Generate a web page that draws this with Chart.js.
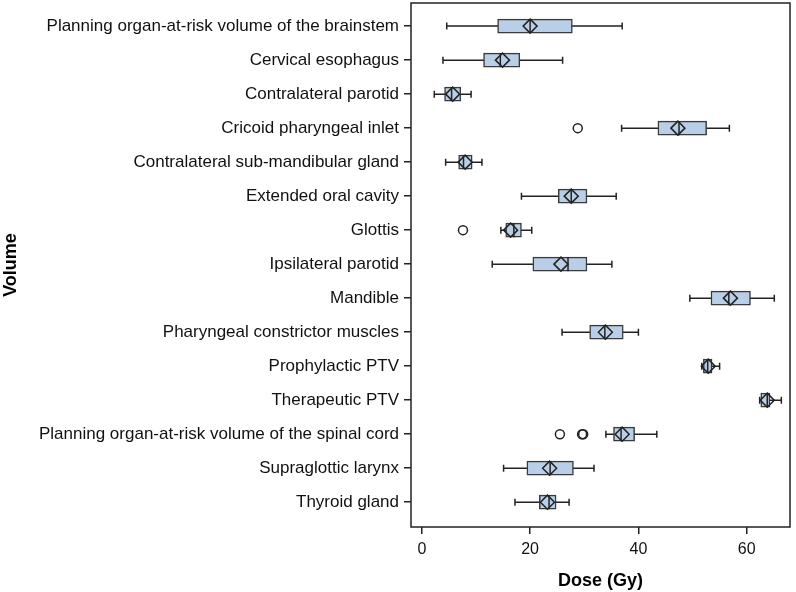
<!DOCTYPE html>
<html lang="en">
<head>
    <meta charset="UTF-8">
    <title>Dose by Volume</title>
    <script src="https://cdn.jsdelivr.net/npm/chart.js"></script>
    <style>
        html, body { margin: 0; padding: 0; background: #fff; }
        #wrap { width: 796px; height: 592px; }
    </style>
</head>
<body>
    <div id="wrap"><canvas id="doseChart"></canvas></div>

    <script>
        const volumes = [
            'Planning organ-at-risk volume of the brainstem',
            'Cervical esophagus',
            'Contralateral parotid',
            'Cricoid pharyngeal inlet',
            'Contralateral sub-mandibular gland',
            'Extended oral cavity',
            'Glottis',
            'Ipsilateral parotid',
            'Mandible',
            'Pharyngeal constrictor muscles',
            'Prophylactic PTV',
            'Therapeutic PTV',
            'Planning organ-at-risk volume of the spinal cord',
            'Supraglottic larynx',
            'Thyroid gland'
        ];
        const whiskerLow  = [4.6, 3.9, 2.3, 36.9, 4.4, 18.4, 14.6, 13.0, 49.5, 25.9, 51.7, 62.4, 34.0, 15.1, 17.2];
        const q1          = [14.0, 11.4, 4.2, 43.6, 6.8, 25.2, 15.5, 20.5, 53.4, 31.0, 52.0, 62.6, 35.4, 19.4, 21.7];
        const medians     = [20.0, 14.5, 5.5, 47.5, 7.7, 27.6, 17.0, 27.0, 56.7, 33.8, 52.8, 63.8, 36.8, 23.7, 23.5];
        const means       = [20.0, 14.9, 5.7, 47.3, 8.0, 27.6, 16.4, 25.7, 57.0, 33.9, 52.9, 63.8, 37.0, 23.6, 23.2];
        const q3          = [27.8, 18.1, 7.2, 52.6, 9.3, 30.5, 18.4, 30.5, 60.7, 37.2, 53.6, 64.3, 39.3, 28.0, 24.8];
        const whiskerHigh = [37.0, 26.0, 9.1, 56.8, 11.1, 35.9, 20.3, 35.1, 65.1, 40.0, 55.0, 66.4, 43.4, 31.8, 27.2];

        // outliers: row index + dose
        const outlierRow  = [3, 6, 12, 12, 12];
        const outlierDose = [28.8, 7.6, 25.5, 29.6, 29.8];

        const xTicks = [0, 20, 40, 60];

        const INK = '#222';
        const FONT = "'Liberation Sans', Arial, sans-serif";

        // whiskers under the boxes, medians on top of them, frame at the end
        const boxExtras = {
            id: 'boxExtras',
            beforeDatasetsDraw(chart) {
                const { ctx, scales: { x, y } } = chart;
                ctx.save();
                ctx.strokeStyle = INK;
                ctx.lineWidth = 1.5;
                volumes.forEach((_, i) => {
                    const py = y.getPixelForValue(i);
                    const a = x.getPixelForValue(whiskerLow[i]);
                    const b = x.getPixelForValue(whiskerHigh[i]);
                    ctx.beginPath();
                    ctx.moveTo(a, py); ctx.lineTo(b, py);
                    ctx.moveTo(a, py - 3.5); ctx.lineTo(a, py + 3.5);
                    ctx.moveTo(b, py - 3.5); ctx.lineTo(b, py + 3.5);
                    ctx.stroke();
                });
                ctx.restore();
            },
            afterDatasetDraw(chart, args) {
                if (args.meta.type !== 'bar') return;
                const { ctx, scales: { x, y } } = chart;
                ctx.save();
                ctx.strokeStyle = INK;
                ctx.lineWidth = 1.5;
                volumes.forEach((_, i) => {
                    const py = y.getPixelForValue(i);
                    const m = x.getPixelForValue(medians[i]);
                    ctx.beginPath();
                    ctx.moveTo(m, py - 7); ctx.lineTo(m, py + 7);
                    ctx.stroke();
                });
                ctx.restore();
            },
            afterDraw(chart) {
                const { ctx, chartArea: c } = chart;
                ctx.save();
                ctx.strokeStyle = INK;
                ctx.lineWidth = 1.5;
                ctx.strokeRect(c.left, c.top, c.right - c.left, c.bottom - c.top);
                ctx.restore();
            }
        };

        new Chart(document.getElementById('doseChart'), {
            type: 'bar',
            data: {
                datasets: [
                    {
                        type: 'scatter',
                        label: 'Mean',
                        data: means.map((v, i) => ({ x: v, y: i })),
                        pointStyle: 'rectRot',
                        radius: 7,
                        borderColor: INK,
                        borderWidth: 1.5,
                        backgroundColor: 'rgba(0,0,0,0)',
                        order: 0
                    },
                    {
                        type: 'scatter',
                        label: 'Outliers',
                        data: outlierDose.map((v, k) => ({ x: v, y: outlierRow[k] })),
                        pointStyle: 'circle',
                        radius: 4.5,
                        borderColor: INK,
                        borderWidth: 1.5,
                        backgroundColor: 'rgba(0,0,0,0)',
                        order: 1
                    },
                    {
                        type: 'bar',
                        label: 'IQR',
                        indexAxis: 'y',
                        data: q1.map((v, i) => ({ x: [v, q3[i]], y: i })),
                        backgroundColor: '#b9cfe8',
                        borderColor: '#3a3a3a',
                        borderWidth: 1.5,
                        borderSkipped: false,
                        barThickness: 14,
                        order: 2
                    }
                ]
            },
            options: {
                responsive: true,
                maintainAspectRatio: false,
                animation: false,
                layout: { autoPadding: false, padding: { top: 3, right: 6, left: 0, bottom: 0 } },
                plugins: { legend: { display: false }, tooltip: { enabled: false } },
                scales: {
                    x: {
                        type: 'linear',
                        offset: false,
                        min: -2,
                        max: 68,
                        afterBuildTicks: s => { s.ticks = xTicks.map(v => ({ value: v })); },
                        afterFit: s => { s.height = 65; s.paddingLeft = 0; s.paddingRight = 0; },
                        border: { display: false },
                        grid: { offset: false, drawOnChartArea: false, drawTicks: true, tickLength: 7, color: INK, lineWidth: 1.5 },
                        ticks: { color: '#111', font: { family: FONT, size: 16 }, padding: 6 },
                        title: { display: true, text: 'Dose (Gy)', color: '#000', font: { family: FONT, size: 18, weight: 'bold' }, padding: { top: 4, bottom: 0 } }
                    },
                    y: {
                        type: 'linear',
                        offset: false,
                        reverse: true,
                        min: -0.68,
                        max: 14.73,
                        afterBuildTicks: s => { s.ticks = volumes.map((_, i) => ({ value: i })); },
                        afterFit: s => { s.width = 411; s.paddingTop = 0; s.paddingBottom = 0; },
                        border: { display: false },
                        grid: { offset: false, drawOnChartArea: false, drawTicks: true, tickLength: 7, color: INK, lineWidth: 1.5 },
                        ticks: {
                            color: '#111',
                            font: { family: FONT, size: 17 },
                            padding: 5,
                            autoSkip: false,
                            callback: v => volumes[v]
                        },
                        title: { display: true, text: 'Volume', color: '#000', font: { family: FONT, size: 18, weight: 'bold' }, padding: 0 }
                    }
                }
            },
            plugins: [boxExtras]
        });
    </script>
</body>
</html>
